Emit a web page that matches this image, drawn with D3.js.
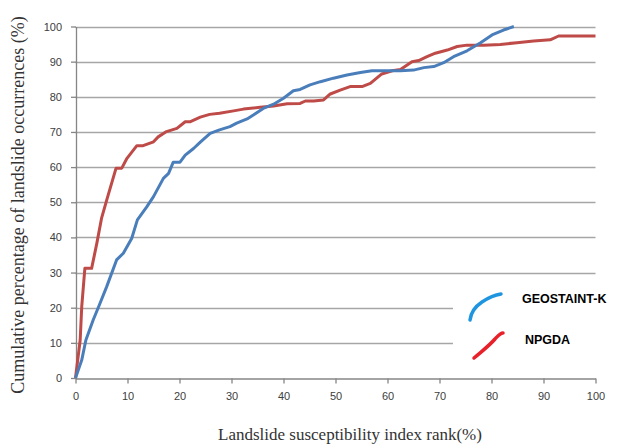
<!DOCTYPE html>
<html>
<head>
<meta charset="utf-8">
<script src="https://cdn.jsdelivr.net/npm/d3@7"></script>
<style>
  body { margin: 0; background: #fff; }
  svg { display: block; }
</style>
</head>
<body>
<div id="vis"></div>
<script>
// values (x = index rank %, y = cumulative %)
var geo_x = [0, 1.2, 2, 3.4, 4.7, 6, 7.9, 9.2, 10.8, 11.9, 13.7, 15, 16.9, 17.9, 18.8, 20.1, 21.1, 22.7, 24, 25.9, 27.7, 29.7, 31, 33, 34.2, 36.1, 38.1, 40, 41.9, 43.2, 45.1, 47.1, 49.6, 52.2, 54.8, 57, 59.9, 62.5, 65, 67, 68.9, 70.8, 72.7, 75.3, 77.9, 80.1, 82.3, 84.3];
var geo_y = [0, 5.1, 10.8, 16.5, 21.2, 26, 33.6, 35.5, 39.7, 45, 48.7, 51.6, 56.8, 58.2, 61.4, 61.4, 63.4, 65.3, 67.1, 69.6, 70.6, 71.5, 72.5, 73.7, 74.8, 76.7, 77.9, 79.6, 81.7, 82.1, 83.4, 84.3, 85.3, 86.2, 86.9, 87.4, 87.4, 87.4, 87.6, 88.3, 88.6, 89.7, 91.4, 93.1, 95.4, 97.6, 99, 100];

var npg_x = [0, 0.9, 1.2, 1.8, 3.1, 4.1, 5, 6, 7.8, 8.9, 9.9, 11.8, 13, 15, 15.9, 17.5, 19.5, 21.1, 22, 24, 25.8, 27.7, 30.4, 32.3, 35.5, 38.1, 40.7, 43.2, 44.2, 45.8, 47.7, 49, 50.9, 52.8, 55.1, 56.7, 58.9, 60.9, 62.5, 64.7, 66, 67.6, 69.2, 71.5, 73.4, 75.3, 78.5, 81.7, 84.9, 88.1, 91.3, 92.9, 100];
var npg_y = [0, 10.8, 20.3, 31.2, 31.2, 38.3, 45.4, 50.6, 59.7, 59.7, 62.5, 66.1, 66.1, 67.2, 68.6, 70.1, 71, 72.9, 72.9, 74.2, 75, 75.3, 76, 76.5, 77, 77.4, 78, 78.1, 78.8, 78.8, 79.1, 80.8, 81.9, 82.9, 82.9, 83.8, 86.5, 87.4, 87.8, 90, 90.3, 91.4, 92.4, 93.3, 94.3, 94.7, 94.7, 94.9, 95.4, 95.9, 96.2, 97.3, 97.3];

var x_ticks = [0, 10, 20, 30, 40, 50, 60, 70, 80, 90, 100];
var y_ticks = [0, 10, 20, 30, 40, 50, 60, 70, 80, 90, 100];
var legend_names = ["GEOSTAINT-K", "NPGDA"];

var width = 617, height = 445;
var svg = d3.select("#vis").append("svg")
    .attr("width", width)
    .attr("height", height);

var x = d3.scaleLinear().domain([0, 100]).range([75.5, 595.5]);
var y = d3.scaleLinear().domain([0, 100]).range([378, 26.5]);

// gridlines
svg.append("g")
    .selectAll("line")
    .data(y_ticks.filter(function(d){ return d > 0; }))
    .enter()
    .append("line")
    .attr("x1", x(0))
    .attr("x2", x(100))
    .attr("y1", function(d){ return Math.round(y(d)) + 0.5; })
    .attr("y2", function(d){ return Math.round(y(d)) + 0.5; })
    .attr("stroke", "#a6a6a6")
    .attr("stroke-width", 1.3);

// x axis
var xAxis = svg.append("g")
    .attr("transform", "translate(0," + (Math.round(y(0)) + 0.5) + ")")
    .call(d3.axisBottom(x).tickValues(x_ticks).tickSize(5).tickPadding(9).tickSizeOuter(0));
// y axis
var yAxis = svg.append("g")
    .attr("transform", "translate(" + Math.round(x(0)) + ",0)")
    .call(d3.axisLeft(y).tickValues(y_ticks).tickSize(5).tickPadding(9).tickSizeOuter(0));

[xAxis, yAxis].forEach(function(a){
    a.select(".domain").attr("stroke", "#868686").attr("stroke-width", 1.3);
    a.selectAll(".tick line").attr("stroke", "#868686").attr("stroke-width", 1.3);
    a.selectAll("text")
        .attr("fill", "#404040")
        .style("font-family", "Arial, 'Liberation Sans', sans-serif")
        .style("font-size", "11px");
});

// series
var line = d3.line()
    .x(function(d){ return x(d[0]); })
    .y(function(d){ return y(d[1]); });

var geo = geo_x.map(function(v, i){ return [v, geo_y[i]]; });
var npg = npg_x.map(function(v, i){ return [v, npg_y[i]]; });

svg.append("path")
    .datum(npg)
    .attr("d", line)
    .attr("fill", "none")
    .attr("stroke", "#be4b48")
    .attr("stroke-width", 3)
    .attr("stroke-linejoin", "round");

svg.append("path")
    .datum(geo)
    .attr("d", line)
    .attr("fill", "none")
    .attr("stroke", "#4a7ebb")
    .attr("stroke-width", 3)
    .attr("stroke-linejoin", "round");

// legend box covers part of the grid
svg.append("rect")
    .attr("x", 453)
    .attr("y", 282)
    .attr("width", 150)
    .attr("height", 90)
    .attr("fill", "#fff");

var legend_colors = ["#1f95e0", "#e8202a"];
var legend_strokes = [
    "M0,0 C1,-9 6,-14 12,-18 C18,-22 24,-25 31,-26",
    "M0,0 C8,-7 15,-12 21,-19 C24,-22 26,-25 29,-25"
];
var lg = svg.append("g");
lg.selectAll("path")
    .data(legend_names)
    .enter()
    .append("path")
    .attr("transform", function(d, i){ return i === 0 ? "translate(470,320)" : "translate(474,358)"; })
    .attr("d", function(d, i){ return legend_strokes[i]; })
    .attr("fill", "none")
    .attr("stroke", function(d, i){ return legend_colors[i]; })
    .attr("stroke-width", 3.5)
    .attr("stroke-linecap", "round");

lg.selectAll("text")
    .data(legend_names)
    .enter()
    .append("text")
    .attr("x", function(d, i){ return i === 0 ? 522 : 525; })
    .attr("y", function(d, i){ return i === 0 ? 303 : 343.5; })
    .attr("fill", "#000")
    .style("font-family", "Arial, 'Liberation Sans', sans-serif")
    .style("font-weight", "bold")
    .style("font-size", "12.5px")
    .text(function(d){ return d; });

// axis titles
svg.append("text")
    .attr("x", 350)
    .attr("y", 440)
    .attr("text-anchor", "middle")
    .attr("fill", "#333")
    .style("font-family", "'Liberation Serif', 'Times New Roman', serif")
    .style("font-size", "17px")
    .text("Landslide susceptibility index rank(%)");

svg.append("text")
    .attr("transform", "translate(24,205) rotate(-90)")
    .attr("text-anchor", "middle")
    .attr("fill", "#333")
    .style("font-family", "'Liberation Serif', 'Times New Roman', serif")
    .style("font-size", "18px")
    .text("Cumulative percentage of landslide occurrences (%)");
</script>
</body>
</html>
